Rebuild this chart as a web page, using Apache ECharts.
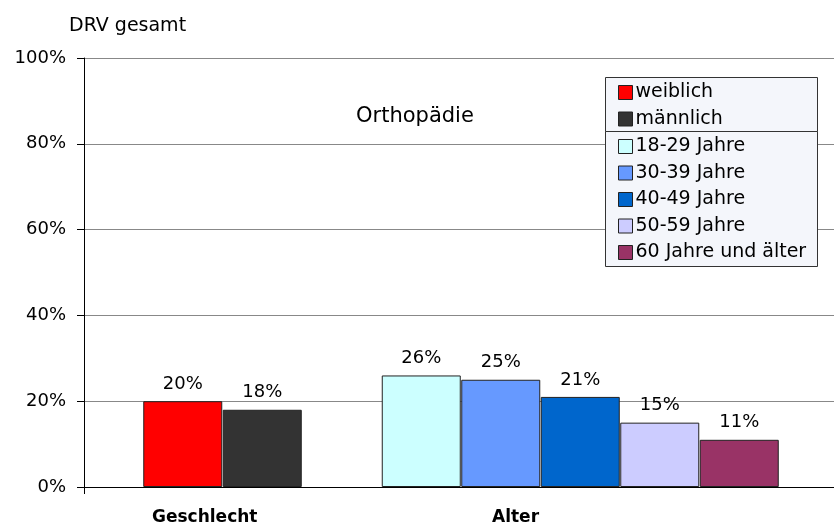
<!DOCTYPE html>
<html>
<head>
<meta charset="utf-8">
<script src="https://cdn.jsdelivr.net/npm/echarts@6/dist/echarts.min.js"></script>
<style>
  html, body { margin: 0; padding: 0; background: #fff; }
  #chart { width: 834px; height: 531px; }
</style>
</head>
<body>
<div id="chart"></div>
<script>
// Daten
const genderNames = ['weiblich', 'männlich']
const genderValues = [20, 18]
const ageNames = ['18-29 Jahre', '30-39 Jahre', '40-49 Jahre', '50-59 Jahre', '60 Jahre und älter']
const ageValues = [26, 25, 21, 15, 11]
const groupNames = ['Geschlecht', 'Alter']
const yTicks = [0, 20, 40, 60, 80, 100]
const colors = ['#ff0000', '#333333', '#ccffff', '#6699ff', '#0066cc', '#ccccff', '#993366']

const font = 'DejaVu Sans'

// Slot-Index je Balken: Geschlecht 0..1, eine Lücke, Alter 3..7
const names = genderNames.concat(ageNames)
const values = genderValues.concat(ageValues)
const slots = [0, 1, 3, 4, 5, 6, 7]

const xMin = -0.5 - 59 / 79.5
const xMax = xMin + 750 / 79.5

const series = names.map((name, i) => ({
  name: name,
  type: 'bar',
  stack: 'all',
  barWidth: 79,
  data: [[slots[i], values[i]]],
  itemStyle: { color: colors[i], borderColor: '#222', borderWidth: 1 },
  label: {
    show: true,
    position: 'top',
    distance: 8,
    formatter: '{@[1]}%',
    color: '#000',
    fontSize: 18,
    fontFamily: font
  }
}))

const legendCommon = {
  orient: 'vertical',
  left: 618,
  icon: 'rect',
  itemWidth: 14,
  itemHeight: 14,
  itemGap: 7.5,
  padding: 0,
  selectedMode: false,
  z: 5,
  textStyle: { fontSize: 19, color: '#000', fontFamily: font, padding: [0, 0, 0, -2] },
  itemStyle: { borderColor: '#222', borderWidth: 1 }
}

const chart = echarts.init(document.getElementById('chart'))
chart.setOption({
  animation: false,
  textStyle: { fontFamily: font },
  title: [
    { text: 'DRV gesamt', left: 64, top: 12, textStyle: { fontSize: 19, fontWeight: 'normal', color: '#000', fontFamily: font } },
    { text: 'Orthopädie', left: 351, top: 101, textStyle: { fontSize: 21, fontWeight: 'normal', color: '#000', fontFamily: font } }
  ],
  grid: { left: 84, right: 0, top: 58, bottom: 44 },
  xAxis: {
    type: 'value',
    min: xMin,
    max: xMax,
    axisLine: { show: true, onZero: false, lineStyle: { color: '#000', width: 1 } },
    axisTick: { show: true, customValues: [xMin], length: 7, lineStyle: { color: '#000' } },
    axisLabel: { show: false },
    splitLine: { show: false }
  },
  yAxis: {
    type: 'value',
    min: yTicks[0],
    max: yTicks[yTicks.length - 1],
    interval: 20,
    axisLine: { show: true, onZero: false, lineStyle: { color: '#000', width: 1 } },
    axisTick: { show: true, length: 7, lineStyle: { color: '#000' } },
    axisLabel: { formatter: '{value}%', fontSize: 18, color: '#000', margin: 18, fontFamily: font },
    splitLine: { lineStyle: { color: '#888', width: 1 } }
  },
  legend: [
    Object.assign({ data: genderNames, top: 83 }, legendCommon),
    Object.assign({ data: ageNames, top: 137 }, legendCommon)
  ],
  graphic: [
    { type: 'rect', z: 4, shape: { x: 605.5, y: 77.5, width: 212, height: 54 }, style: { fill: '#f4f6fb', stroke: '#333', lineWidth: 1 } },
    { type: 'rect', z: 4, shape: { x: 605.5, y: 131.5, width: 212, height: 135 }, style: { fill: '#f4f6fb', stroke: '#333', lineWidth: 1 } },
    { type: 'text', z: 4, left: 152, top: 509, style: { text: groupNames[0], font: 'bold 17px DejaVu Sans', fill: '#000' } },
    { type: 'text', z: 4, left: 492, top: 509, style: { text: groupNames[1], font: 'bold 17px DejaVu Sans', fill: '#000' } }
  ],
  series: series
})
</script>
</body>
</html>
